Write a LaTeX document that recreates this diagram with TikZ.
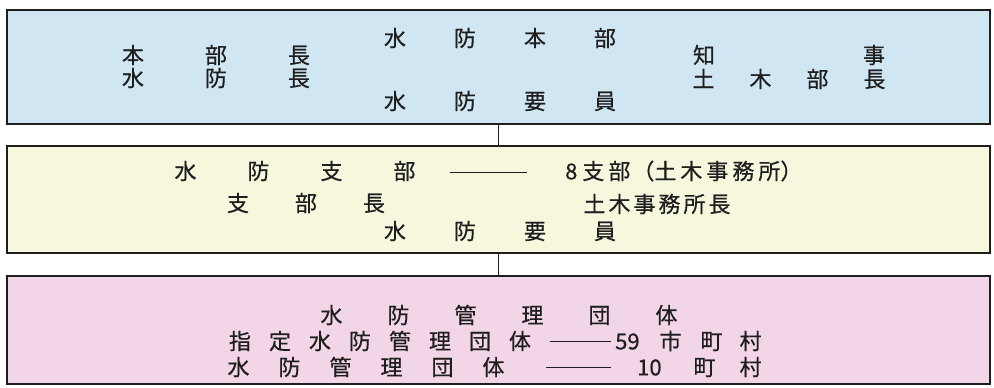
\documentclass[tikz,border=0pt]{standalone}
\usepackage{fontspec}
\setmainfont{Noto Sans CJK JP}[UprightFeatures={FakeBold=0.5}]
\definecolor{bluebg}{RGB}{208,230,243}
\definecolor{yellowbg}{RGB}{247,247,222}
\definecolor{pinkbg}{RGB}{242,214,232}
\definecolor{ink}{RGB}{30,30,30}
\begin{document}
\begin{tikzpicture}[x=1pt,y=-1pt,
  box/.style={draw=ink, line width=1.3pt, inner sep=0pt, minimum width=983pt},
  lbl/.style={inner sep=0pt, text=ink, font=\fontsize{22}{22}\selectfont},
  link/.style={draw=ink, line width=1pt}]
\useasboundingbox (0,0) rectangle (994,388);
% boxes
\node[box, fill=bluebg, minimum height=114pt] (hq) at (498.5,67) {};
\node[box, fill=yellowbg, minimum height=107pt] (br) at (498.5,199.5) {};
\node[box, fill=pinkbg, minimum height=108pt] (mg) at (498.5,330) {};
\draw[link] (hq.south) -- (br.north);
\draw[link] (br.south) -- (mg.north);
% box 1
\node[lbl] (a1) at (216,55) {本\hspace{61pt}部\hspace{61pt}長};
\node[lbl] (a2) at (216,78) {水\hspace{61pt}防\hspace{61pt}長};
\node[lbl] (a3) at (500,38) {水\hspace{48pt}防\hspace{48pt}本\hspace{48pt}部};
\node[lbl] (a4) at (500,101) {水\hspace{48pt}防\hspace{48pt}要\hspace{48pt}員};
\node[lbl] (a5) at (789,55) {知\hspace{148pt}事};
\node[lbl] (a6) at (789,79) {土\hspace{35pt}木\hspace{35pt}部\hspace{35pt}長};
% box 2
\node[lbl] (b1) at (295,171) {水\hspace{51pt}防\hspace{51pt}支\hspace{51pt}部};
\coordinate (b1l) at (450,172);
\coordinate (b1r) at (527,172);
\draw[link] (b1l) -- (b1r);
\node[lbl, anchor=west] (b2) at (565,171) {8\hspace{5pt}支\hspace{4pt}部\hspace{2pt}（土\hspace{4pt}木\hspace{4pt}事\hspace{4pt}務\hspace{4pt}所）};
\node[lbl] (b3) at (306,203) {支\hspace{46pt}部\hspace{46pt}長};
\node[lbl] (b4) at (657,204) {土\hspace{3pt}木\hspace{3pt}事\hspace{3pt}務\hspace{3pt}所\hspace{3pt}長};
\node[lbl] (b5) at (500,231) {水\hspace{48pt}防\hspace{48pt}要\hspace{48pt}員};
% box 3
\node[lbl] (c1) at (499,315) {水\hspace{45pt}防\hspace{45pt}管\hspace{45pt}理\hspace{45pt}団\hspace{45pt}体};
\node[lbl] (c2) at (380,341) {指\hspace{18pt}定\hspace{18pt}水\hspace{18pt}防\hspace{18pt}管\hspace{18pt}理\hspace{18pt}団\hspace{18pt}体};
\coordinate (c2l) at (550,341);
\coordinate (c2r) at (611,341);
\draw[link] (c2l) -- (c2r);
\node[lbl, anchor=west] (c3) at (615,341) {59\hspace{20pt}市\hspace{19pt}町\hspace{17pt}村};
\node[lbl] (c4) at (366,367) {水\hspace{29pt}防\hspace{29pt}管\hspace{29pt}理\hspace{29pt}団\hspace{29pt}体};
\coordinate (c4l) at (546,367);
\coordinate (c4r) at (611,367);
\draw[link] (c4l) -- (c4r);
\node[lbl, anchor=west] (c5) at (637,367) {10\hspace{32pt}町\hspace{24pt}村};
\end{tikzpicture}
\end{document}
